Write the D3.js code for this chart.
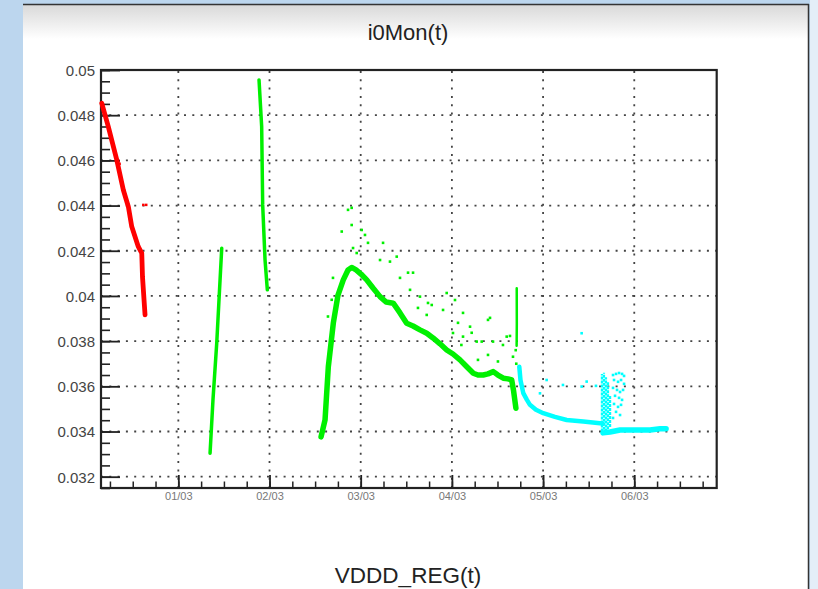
<!DOCTYPE html>
<html><head><meta charset="utf-8">
<script src="https://cdn.jsdelivr.net/npm/d3@7"></script>
<style>html,body{margin:0;padding:0;background:#bcd6ee;}svg{display:block;}</style>
</head><body><div id="chart"></div>
<script>
// ---------------- data ----------------
const titleText = "i0Mon(t)";
const bottomText = "VDDD_REG(t)";
const xTickValues = [1, 2, 3, 4, 5, 6];
const xTickLabels = ["01/03", "02/03", "03/03", "04/03", "05/03", "06/03"];
const yTickValues = [0.032, 0.034, 0.036, 0.038, 0.04, 0.042, 0.044, 0.046, 0.048, 0.05];
const yTickLabels = ["0.032", "0.034", "0.036", "0.038", "0.04", "0.042", "0.044", "0.046", "0.048", "0.05"];

// day (x) and value (y)
const redDays   = [0.160, 0.232, 0.325, 0.397, 0.452, 0.489, 0.561, 0.599, 0.607, 0.624, 0.635];
const redVals   = [0.04853, 0.04749, 0.04602, 0.04469, 0.04395, 0.04307, 0.04218, 0.04189, 0.04085, 0.03982, 0.03916];
const redOutDays = [0.616, 0.648, 0.338, 0.356];
const redOutVals = [0.04403, 0.04403, 0.04600, 0.04585];

const green1Days = [1.348, 1.380, 1.421, 1.446, 1.476];
const green1Vals = [0.03304, 0.0354, 0.0379, 0.03982, 0.04211];

const green2Days = [1.885, 1.914, 1.925, 1.951, 1.976];
const green2Vals = [0.04956, 0.04749, 0.04403, 0.04159, 0.04027];

const green3Days = [2.565, 2.609, 2.645, 2.700, 2.751, 2.809, 2.861, 2.901, 2.949, 3.003, 3.066, 3.135, 3.212, 3.278, 3.357, 3.431, 3.504, 3.574, 3.650, 3.724, 3.793, 3.870, 3.943, 4.012, 4.089, 4.155, 4.235, 4.286, 4.344, 4.396, 4.454, 4.505, 4.564, 4.615, 4.656, 4.675, 4.702];
const green3Vals = [0.03376, 0.03451, 0.03687, 0.03881, 0.04004, 0.04071, 0.04115, 0.04126, 0.04115, 0.04097, 0.04071, 0.04035, 0.03997, 0.03973, 0.03968, 0.03925, 0.03879, 0.03867, 0.0385, 0.03835, 0.03814, 0.03788, 0.03761, 0.03743, 0.03717, 0.0369, 0.03658, 0.0365, 0.0365, 0.03655, 0.03665, 0.0365, 0.03636, 0.03633, 0.03628, 0.03584, 0.03503];

const greenSpikeDays = [4.711, 4.712, 4.710];
const greenSpikeVals = [0.04034, 0.0388, 0.0378];

const greenDotDays = [2.861, 2.901, 2.792, 2.901, 3.011, 3.047, 3.245, 3.080, 3.212, 3.321, 3.395, 3.431, 3.519, 3.574, 3.541, 3.650, 3.738, 3.779, 3.628, 3.943, 4.034, 3.903, 4.122, 3.724, 4.067, 4.199, 4.396, 4.418, 4.217, 4.122, 4.272, 4.327, 4.451, 4.601, 4.637, 4.560, 4.396, 4.286, 4.505, 4.670, 4.104, 4.012, 2.696, 2.641, 2.682, 2.916, 2.956, 4.700, 4.706];
const greenDotVals = [0.04381, 0.0439, 0.04285, 0.04314, 0.04292, 0.0427, 0.04235, 0.04235, 0.04159, 0.04152, 0.04174, 0.0408, 0.04103, 0.04103, 0.04027, 0.03997, 0.03969, 0.0396, 0.03947, 0.04013, 0.03982, 0.03938, 0.03925, 0.03916, 0.03881, 0.03864, 0.03894, 0.03903, 0.03837, 0.0382, 0.03798, 0.03798, 0.03798, 0.0382, 0.03823, 0.03783, 0.03739, 0.03717, 0.0371, 0.03731, 0.03783, 0.03836, 0.0408, 0.03909, 0.03983, 0.04212, 0.0419, 0.03760, 0.03700];

const cyanDays = [4.739, 4.752, 4.783, 4.823, 4.856, 4.922, 5.002, 5.130, 5.259, 5.441, 5.624, 5.657];
const cyanVals = [0.03687, 0.03628, 0.0357, 0.0354, 0.03518, 0.03496, 0.03481, 0.03465, 0.03451, 0.03444, 0.03437, 0.03434];

const cyanFlatDays = [5.657, 5.734, 5.844, 5.953, 6.063, 6.173, 6.283, 6.349];
const cyanFlatVals = [0.03394, 0.03398, 0.03407, 0.03407, 0.03407, 0.03407, 0.03412, 0.03412];

// vertical bands of the dense cyan cloud: day, low, high
const cyanBandDays = [5.645, 5.668, 5.690, 5.712, 5.735];
const cyanBandLow  = [0.0340, 0.0339, 0.0340, 0.0341, 0.0342];
const cyanBandHigh = [0.03655, 0.03660, 0.03640, 0.03620, 0.03560];

const cyanDotDays = [5.767, 5.800, 5.833, 5.866, 5.888, 5.778, 5.822, 5.855, 5.888, 5.767, 5.811, 5.844, 5.877, 5.789, 5.833, 5.866, 5.778, 5.822, 5.855, 5.800, 5.844, 5.767, 5.423, 5.039, 5.218, 5.478, 5.423, 4.966, 5.580];
const cyanDotVals = [0.0365, 0.03655, 0.03659, 0.03655, 0.03646, 0.03628, 0.0362, 0.03628, 0.03611, 0.03593, 0.03584, 0.03575, 0.03584, 0.03558, 0.03549, 0.0354, 0.03522, 0.03509, 0.03518, 0.03487, 0.03473, 0.0346, 0.03835, 0.03628, 0.03606, 0.03621, 0.03599, 0.03569, 0.03602];

// ---------------- drawing ----------------
const W = 818, H = 589;
const svg = d3.select("#chart").append("svg").attr("width", W).attr("height", H);
const defs = svg.append("defs");
const tg = defs.append("linearGradient").attr("id", "topG").attr("x1", 0).attr("x2", 0).attr("y1", 0).attr("y2", 1);
tg.append("stop").attr("offset", "0%").attr("stop-color", "#d9d9d9");
tg.append("stop").attr("offset", "100%").attr("stop-color", "#ffffff");

svg.append("rect").attr("width", W).attr("height", H).attr("fill", "#bcd6ee");
svg.append("rect").attr("x", 810).attr("y", 0).attr("width", 8).attr("height", H).attr("fill", "#e4eef8");
// panel
svg.append("rect").attr("x", 23).attr("y", 4).attr("width", 785).attr("height", H - 4).attr("fill", "#ffffff");
svg.append("rect").attr("x", 23).attr("y", 5).attr("width", 785).attr("height", 34).attr("fill", "url(#topG)");
svg.append("line").attr("x1", 23).attr("x2", 809).attr("y1", 4.5).attr("y2", 4.5).attr("stroke", "#333").attr("stroke-width", 1.5);
svg.append("line").attr("x1", 808.5).attr("x2", 808.5).attr("y1", 4).attr("y2", H).attr("stroke", "#333").attr("stroke-width", 1.5);

const L = 101, R = 716.7, T = 70, B = 488;
const x = d3.scaleLinear().domain([0.152, 6.904]).range([L, R]);
const y = d3.scaleLinear().domain([0.0315, 0.05]).range([B, T]);

const font = "'Liberation Sans', Arial, Helvetica, sans-serif";

// grid
const grid = svg.append("g");
grid.selectAll("line.gx").data(xTickValues).enter().append("line")
  .attr("x1", d => x(d)).attr("x2", d => x(d)).attr("y1", B).attr("y2", T)
  .attr("stroke", "#444").attr("stroke-width", 1.8).attr("stroke-dasharray", "2,6.3");
grid.selectAll("line.gy").data(yTickValues.filter(v => v < 0.0499)).enter().append("line")
  .attr("x1", L).attr("x2", R).attr("y1", d => y(d)).attr("y2", d => y(d))
  .attr("stroke", "#444").attr("stroke-width", 1.8).attr("stroke-dasharray", "2,6.3");

// minor ticks
const yMinor = d3.range(0, 38).map(i => 0.0315 + i * 0.0005).filter(v => v <= 0.0501);
const xMinor = d3.range(1, 28).map(i => i * 0.25).filter(v => v < 6.904);
const yMinAx = d3.axisLeft(y).tickValues(yMinor).tickSize(-9).tickFormat("");
svg.append("g").attr("transform", `translate(${L},0)`).call(yMinAx)
  .call(g => g.select(".domain").remove())
  .call(g => g.selectAll("line").attr("stroke", "#222").attr("stroke-width", 1.6));
const xMinAx = d3.axisBottom(x).tickValues(xMinor).tickSize(-6.5).tickFormat("");
svg.append("g").attr("transform", `translate(0,${B})`).call(xMinAx)
  .call(g => g.select(".domain").remove())
  .call(g => g.selectAll("line").attr("stroke", "#222").attr("stroke-width", 1.5));

// major axes
const yAx = d3.axisLeft(y).tickValues(yTickValues).tickSize(-19).tickPadding(6)
  .tickFormat((d, i) => yTickLabels[i]);
svg.append("g").attr("transform", `translate(${L},0)`).call(yAx)
  .call(g => g.select(".domain").remove())
  .call(g => g.selectAll("line").attr("stroke", "#222").attr("stroke-width", 1.8))
  .call(g => g.selectAll("text").attr("font-family", font).attr("font-size", 15).attr("fill", "#444").attr("dy", "0.36em"));
const xAx = d3.axisBottom(x).tickValues(xTickValues).tickSize(-13).tickPadding(4)
  .tickFormat((d, i) => xTickLabels[i]);
svg.append("g").attr("transform", `translate(0,${B})`).call(xAx)
  .call(g => g.select(".domain").remove())
  .call(g => g.selectAll("line").attr("stroke", "#222").attr("stroke-width", 1.8))
  .call(g => g.selectAll("text").attr("font-family", font).attr("font-size", 11).attr("fill", "#777"));

// frame
svg.append("rect").attr("x", L).attr("y", T).attr("width", R - L).attr("height", B - T)
  .attr("fill", "none").attr("stroke", "#222").attr("stroke-width", 2.2);

// data
const plot = svg.append("g");
const line = d3.line().x(d => x(d[0])).y(d => y(d[1]));
const zip = (a, b) => a.map((v, i) => [v, b[i]]);
function path(days, vals, color, w) {
  plot.append("path").datum(zip(days, vals)).attr("d", line)
    .attr("fill", "none").attr("stroke", color).attr("stroke-width", w)
    .attr("stroke-linecap", "round").attr("stroke-linejoin", "round");
}
function dots(days, vals, color, s) {
  plot.selectAll(null).data(zip(days, vals)).enter().append("rect")
    .attr("x", d => x(d[0]) - s / 2).attr("y", d => y(d[1]) - s / 2)
    .attr("width", s).attr("height", s).attr("fill", color);
}
const RED = "#ff0000", GREEN = "#00f000", CYAN = "#00ffff";
path(redDays, redVals, RED, 4.8);
dots(redOutDays, redOutVals, RED, 2.5);
path(green1Days, green1Vals, GREEN, 3.5);
path(green2Days, green2Vals, GREEN, 3.5);
path(green3Days, green3Vals, GREEN, 5.5);
path(greenSpikeDays, greenSpikeVals, GREEN, 2.5);
dots(greenDotDays, greenDotVals, GREEN, 2.6);
path(cyanDays, cyanVals, CYAN, 4.5);
path(cyanFlatDays, cyanFlatVals, CYAN, 5.5);
plot.selectAll(null).data(cyanBandDays).enter().append("line")
  .attr("x1", d => x(d)).attr("x2", d => x(d))
  .attr("y1", (d, i) => y(cyanBandLow[i])).attr("y2", (d, i) => y(cyanBandHigh[i]))
  .attr("stroke", CYAN).attr("stroke-width", 2.2).attr("stroke-dasharray", "3,1");
dots(cyanDotDays, cyanDotVals, CYAN, 2.6);

// texts
svg.append("text").attr("x", 408).attr("y", 40).attr("text-anchor", "middle")
  .attr("font-family", font).attr("font-size", 22).attr("fill", "#222").text(titleText);
svg.append("text").attr("x", 408).attr("y", 583).attr("text-anchor", "middle")
  .attr("font-family", font).attr("font-size", 22.5).attr("fill", "#222").text(bottomText);
</script></body></html>
